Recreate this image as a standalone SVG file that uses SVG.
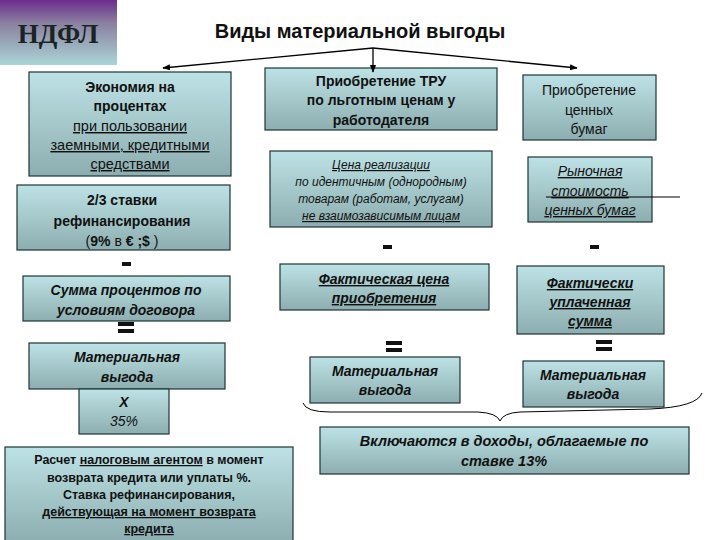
<svg xmlns="http://www.w3.org/2000/svg" width="720" height="540" viewBox="0 0 720 540">
<defs>
<linearGradient id="g" x1="0" y1="0" x2="0" y2="1">
<stop offset="0" stop-color="#bde2e5"/>
<stop offset="1" stop-color="#8daeb0"/>
</linearGradient>
<linearGradient id="tg" x1="0" y1="0" x2="0" y2="1">
<stop offset="0" stop-color="#6b2d8c"/>
<stop offset="0.35" stop-color="#8a7fa0"/>
<stop offset="1" stop-color="#a9d6d6"/>
</linearGradient>
<marker id="ah" viewBox="0 0 10 10" refX="9" refY="5" markerWidth="6" markerHeight="6" orient="auto">
<path d="M0,1 L10,5 L0,9 Z" fill="#000"/>
</marker>
</defs>
<style>
.box{fill:url(#g);stroke:#1e3434;stroke-width:1.2}
text{font-family:"Liberation Sans",Arial,sans-serif;fill:#111;text-anchor:middle}
.b{font-weight:bold}
.i{font-style:italic}
.u{text-decoration:underline}
.op{fill:#111}
</style>
<rect width="720" height="540" fill="#fff"/>

<g id="title-box">
<rect x="0" y="0" width="117" height="65" fill="url(#tg)"/>
<text x="58" y="43" style="font-family:'Liberation Serif','Times New Roman',serif;font-weight:bold;font-size:27px;fill:#1a2424">НДФЛ</text>
</g>
<g id="title">
<text x="360" y="38" class="b" font-size="20">Виды материальной выгоды</text>
</g>

<g id="operators">
<rect x="122" y="262" width="9" height="4" class="op"/>
<rect x="118" y="322" width="16" height="4" class="op"/>
<rect x="118" y="329" width="16" height="4" class="op"/>
<rect x="383" y="245" width="9" height="4" class="op"/>
<rect x="386" y="341" width="16" height="4" class="op"/>
<rect x="386" y="348" width="16" height="4" class="op"/>
<rect x="590" y="245" width="9" height="4" class="op"/>
<rect x="596" y="340" width="16" height="4" class="op"/>
<rect x="596" y="347" width="16" height="4" class="op"/>
</g>

<g id="n-economy">
<rect x="29" y="72" width="202" height="104" class="box"/>
<text x="130" y="92" class="b" font-size="14">Экономия на</text>
<text x="130" y="111" class="b" font-size="14">процентах</text>
<text x="130" y="131" class="u" font-size="14.5">при пользовании</text>
<text x="130" y="150" class="u" font-size="14.5">заемными, кредитными</text>
<text x="130" y="169" class="u" font-size="14.5">средствами</text>
</g>

<g id="n-rate">
<rect x="17" y="185" width="213" height="65" class="box"/>
<text x="122" y="205" font-size="14"><tspan class="b">2/3</tspan> <tspan class="b">ставки</tspan></text>
<text x="122" y="226" class="b" font-size="14">рефинансирования</text>
<text x="122" y="246" font-size="14">(<tspan class="b">9%</tspan> в <tspan class="b">€ ;$</tspan> )</text>
</g>

<g id="n-sum">
<rect x="23" y="276" width="207" height="45" class="box"/>
<text x="126" y="295" class="b i" font-size="14">Сумма процентов по</text>
<text x="126" y="315" class="b i" font-size="14">условиям договора</text>
</g>

<g id="n-mv1">
<rect x="29" y="343" width="196" height="46" class="box"/>
<text x="127" y="362" class="b i" font-size="14">Материальная</text>
<text x="127" y="382" class="b i" font-size="14">выгода</text>
</g>

<g id="n-x35">
<rect x="79" y="389" width="90" height="45" class="box"/>
<text x="124" y="407" class="b i" font-size="14">X</text>
<text x="124" y="426" class="i" font-size="14">35%</text>
</g>

<g id="n-calc">
<rect x="5" y="447" width="288" height="95" class="box"/>
<text x="149" y="464" class="b" font-size="12.5">Расчет  <tspan class="u">налоговым агентом</tspan>  в момент</text>
<text x="149" y="482" class="b" font-size="12.5">возврата кредита или уплаты %.</text>
<text x="149" y="499" class="b" font-size="12.5">Ставка рефинансирования,</text>
<text x="149" y="516" class="b u" font-size="12.5">действующая на момент возврата</text>
<text x="149" y="533" class="b u" font-size="12.5">кредита</text>
</g>

<g id="n-tru">
<rect x="265" y="68" width="232" height="62" class="box"/>
<text x="381" y="86" class="b" font-size="14">Приобретение ТРУ</text>
<text x="381" y="105" class="b" font-size="14">по льготным ценам у</text>
<text x="381" y="125" class="b" font-size="14">работодателя</text>
</g>

<g id="n-price">
<rect x="270" y="151" width="222" height="76" class="box"/>
<text x="381" y="169" class="i u" font-size="12">Цена реализации</text>
<text x="381" y="186" class="i" font-size="12">по идентичным (однородным)</text>
<text x="381" y="203" class="i" font-size="12">товарам (работам, услугам)</text>
<text x="381" y="220" class="i u" font-size="12">не взаимозависимым лицам</text>
</g>

<g id="n-fact-price">
<rect x="280" y="264" width="209" height="46" class="box"/>
<text x="384" y="284" class="b i u" font-size="14">Фактическая цена</text>
<text x="384" y="303" class="b i u" font-size="14">приобретения</text>
</g>

<g id="n-mv2">
<rect x="310" y="357" width="150" height="46" class="box"/>
<text x="385" y="376" class="b i" font-size="14">Материальная</text>
<text x="385" y="395" class="b i" font-size="14">выгода</text>
</g>

<g id="n-sec">
<rect x="523" y="75" width="133" height="65" class="box"/>
<text x="589" y="95" font-size="14">Приобретение</text>
<text x="589" y="115" font-size="14">ценных</text>
<text x="589" y="134" font-size="14">бумаг</text>
</g>

<g id="n-market">
<rect x="528" y="157" width="124" height="65" class="box"/>
<text x="590" y="176" class="i u" font-size="14">Рыночная</text>
<text x="590" y="196" class="i u" font-size="14">стоимость</text>
<text x="590" y="215" class="i u" font-size="14">ценных бумаг</text>
</g>

<g id="n-paid">
<rect x="517" y="266" width="147" height="68" class="box"/>
<text x="590" y="288" class="b i u" font-size="14">Фактически</text>
<text x="590" y="307" class="b i u" font-size="14">уплаченная</text>
<text x="590" y="326" class="b i u" font-size="14">сумма</text>
</g>

<g id="n-mv3">
<rect x="523" y="361" width="141" height="46" class="box"/>
<text x="593" y="380" class="b i" font-size="14">Материальная</text>
<text x="593" y="399" class="b i" font-size="14">выгода</text>
</g>

<g id="n-income">
<rect x="320" y="427" width="369" height="47" class="box"/>
<text x="504" y="446" class="b i" font-size="14.5">Включаются в доходы, облагаемые по</text>
<text x="504" y="466" class="b i" font-size="14.5">ставке 13%</text>
</g>

<g id="connectors" stroke="#000" stroke-width="1.3" fill="none">
<line x1="373" y1="48" x2="163" y2="68" marker-end="url(#ah)"/>
<line x1="373" y1="48" x2="373" y2="72" marker-end="url(#ah)"/>
<line x1="373" y1="48" x2="577" y2="68" marker-end="url(#ah)"/>
<line x1="546" y1="197" x2="680" y2="197" stroke-width="1"/>
<path d="M303,403 Q306,412 330,412 L478,412 Q497,413 500,421 Q503,413 520,412 L650,409 Q697,407 702,393" stroke-width="1"/>
</g>
</svg>
